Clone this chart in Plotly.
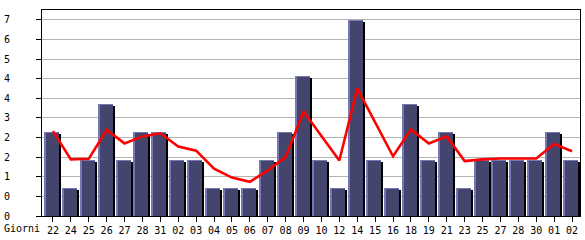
import plotly.graph_objects as go

days = ["22", "24", "25", "26", "27", "28", "31", "02", "03", "04", "05", "06", "07", "08", "09",
        "10", "12", "14", "15", "16", "18", "19", "21", "23", "25", "27", "28", "30", "01", "02"]
counts = [3, 1, 2, 4, 2, 3, 3, 2, 2, 1, 1, 1, 2, 3, 5,
          2, 1, 7, 2, 1, 4, 2, 3, 1, 2, 2, 2, 2, 3, 2]
trend = [3.03, 2.02, 2.04, 3.07, 2.59, 2.84, 2.95, 2.48, 2.33, 1.69, 1.37, 1.22, 1.63, 2.10, 3.73,
         2.85, 1.98, 4.55, 3.35, 2.13, 3.09, 2.59, 2.84, 1.96, 2.02, 2.05, 2.05, 2.05, 2.57, 2.31]
y_ticks = [0, 0.7, 1.4, 2.1, 2.8, 3.5, 4.2, 4.9, 5.6, 6.3, 7.0]
y_labels = [str(int(v)) for v in y_ticks]

xs = list(range(len(days)))
YMAX = 7.35
PX = YMAX / 210.0  # data units per pixel (plot height 210px)
XU = 1 / 18.0      # category units per pixel (18px per category)

NAVY = "#43456d"
LAV = "#7777b5"

fig = go.Figure()
# light left/top edge
fig.add_trace(go.Bar(x=xs, y=counts, width=15 * XU, offset=-9 * XU,
                     marker=dict(color=LAV, line=dict(width=0)), hoverinfo="skip"))
# dark right shadow
fig.add_trace(go.Bar(x=xs, y=[v - 2 * PX for v in counts], width=2 * XU, offset=6 * XU,
                     marker=dict(color="#000000", line=dict(width=0)), hoverinfo="skip"))
# bar body
fig.add_trace(go.Bar(x=xs, y=[v - 1 * PX for v in counts], width=13 * XU, offset=-7 * XU,
                     marker=dict(color=NAVY, line=dict(width=0))))
fig.add_trace(go.Scatter(x=xs, y=trend, mode="lines",
                         line=dict(color="#ff0000", width=2.6)))

font = dict(family="DejaVu Sans Mono", size=10, color="#000000")
fig.update_layout(
    width=585, height=240,
    margin=dict(l=40, r=4, t=10, b=20),
    paper_bgcolor="white", plot_bgcolor="white",
    barmode="overlay", showlegend=False, bargap=0,
    font=font,
    xaxis=dict(range=[-11 / 18, 29 + 8 / 18], tickvals=xs, ticktext=days,
               showgrid=False, zeroline=False, showline=True, linecolor="#000000",
               linewidth=1, mirror=True, ticks="outside", ticklen=5, tickcolor="#000000",
               tickfont=font),
    yaxis=dict(range=[0, YMAX], tickvals=y_ticks, ticktext=y_labels,
               showgrid=True, gridcolor="#b4b4b4", gridwidth=1, zeroline=False,
               showline=True, linecolor="#000000", linewidth=1, mirror=True,
               ticks="outside", ticklen=5, tickcolor="#000000", tickfont=font,
               ticklabelstandoff=24),
    annotations=[dict(text="Giorni", xref="paper", yref="paper", x=-40 / 541, y=-13 / 210,
                      xanchor="left", yanchor="middle", showarrow=False, font=font)],
)

fig.write_html("out.html")
